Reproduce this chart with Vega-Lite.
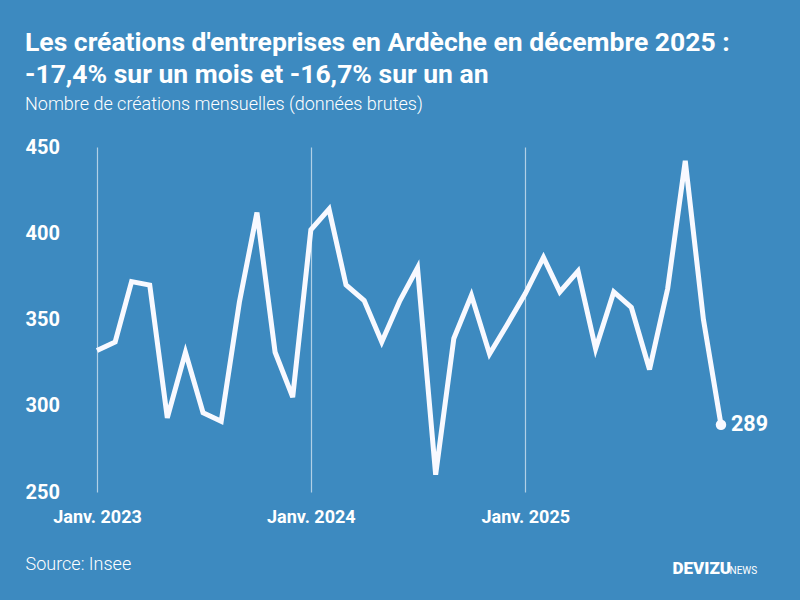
{
  "$schema": "https://vega.github.io/schema/vega-lite/v6.json",
  "width": 624,
  "height": 345,
  "autosize": {"type": "none"},
  "padding": {"left": 97, "top": 147, "right": 79, "bottom": 108},
  "background": "#3d8ac0",
  "config": {"view": {"stroke": null}, "font": "Roboto"},
  "title": {
    "text": ["Les créations d'entreprises en Ardèche en décembre 2025 :", "-17,4% sur un mois et -16,7% sur un an"],
    "subtitle": "Nombre de créations mensuelles (données brutes)",
    "anchor": "start",
    "frame": "group",
    "dx": -72,
    "offset": 23,
    "color": "#ffffff",
    "fontSize": 26.5,
    "fontWeight": "bold",
    "lineHeight": 32,
    "subtitleColor": "#ffffff",
    "subtitleFontSize": 18,
    "subtitleFontWeight": 300,
    "subtitlePadding": 8
  },
  "data": {
    "values": [
      {"date": "2023-01-01", "value": 332},
      {"date": "2023-02-01", "value": 337},
      {"date": "2023-03-01", "value": 372},
      {"date": "2023-04-01", "value": 370},
      {"date": "2023-05-01", "value": 293},
      {"date": "2023-06-01", "value": 331},
      {"date": "2023-07-01", "value": 296},
      {"date": "2023-08-01", "value": 291},
      {"date": "2023-09-01", "value": 360},
      {"date": "2023-10-01", "value": 412},
      {"date": "2023-11-01", "value": 331},
      {"date": "2023-12-01", "value": 305},
      {"date": "2024-01-01", "value": 402},
      {"date": "2024-02-01", "value": 414},
      {"date": "2024-03-01", "value": 370},
      {"date": "2024-04-01", "value": 361},
      {"date": "2024-05-01", "value": 337},
      {"date": "2024-06-01", "value": 361},
      {"date": "2024-07-01", "value": 380},
      {"date": "2024-08-01", "value": 260},
      {"date": "2024-09-01", "value": 339},
      {"date": "2024-10-01", "value": 364},
      {"date": "2024-11-01", "value": 330},
      {"date": "2024-12-01", "value": 347},
      {"date": "2025-01-01", "value": 365},
      {"date": "2025-02-01", "value": 386},
      {"date": "2025-03-01", "value": 366},
      {"date": "2025-04-01", "value": 378},
      {"date": "2025-05-01", "value": 333},
      {"date": "2025-06-01", "value": 366},
      {"date": "2025-07-01", "value": 357},
      {"date": "2025-08-01", "value": 321},
      {"date": "2025-09-01", "value": 368},
      {"date": "2025-10-01", "value": 442},
      {"date": "2025-11-01", "value": 350},
      {"date": "2025-12-01", "value": 289}
    ]
  },
  "layer": [
    {
      "mark": {"type": "line", "color": "#f8f9ff", "strokeWidth": 5, "strokeJoin": "miter"},
      "encoding": {
        "x": {
          "field": "date",
          "type": "temporal",
          "scale": {"type": "utc"},
          "axis": {
            "values": [1672531200000, 1704067200000, 1735689600000],
            "labelExpr": "'Janv. ' + utcFormat(datum.value, '%Y')",
            "grid": true,
            "gridColor": "#ffffff",
            "gridOpacity": 0.6,
            "gridWidth": 1.2,
            "domain": false,
            "ticks": false,
            "labelFlush": false,
            "labelOverlap": false,
            "labelColor": "#ffffff",
            "labelFontSize": 18,
            "labelFontWeight": "bold",
            "labelPadding": 16,
            "title": "Source: Insee",
            "titleX": -72,
            "titleY": 77,
            "titleAlign": "left",
            "titleAnchor": null,
            "titleBaseline": "alphabetic",
            "titleColor": "#ffffff",
            "titleFontSize": 18,
            "titleFontWeight": 300
          }
        },
        "y": {
          "field": "value",
          "type": "quantitative",
          "scale": {"domain": [250, 450], "nice": false, "zero": false},
          "axis": {
            "values": [250, 300, 350, 400, 450],
            "grid": false,
            "domain": false,
            "ticks": false,
            "labelAlign": "left",
            "labelPadding": 72,
            "labelColor": "#ffffff",
            "labelFontSize": 20,
            "labelFontWeight": "bold",
            "title": "DEVIZU",
            "titleAngle": 0,
            "titleX": 575,
            "titleY": 426,
            "titleAlign": "left",
            "titleBaseline": "alphabetic",
            "titleColor": "#ffffff",
            "titleFontSize": 17,
            "titleFontWeight": 900
          }
        }
      }
    },
    {
      "transform": [{"filter": "utcyear(datum.date) == 2025 && utcmonth(datum.date) == 11"}],
      "encoding": {
        "x": {"field": "date", "type": "temporal", "scale": {"type": "utc"}},
        "y": {
          "field": "value",
          "type": "quantitative",
          "scale": {"domain": [250, 450], "nice": false, "zero": false},
          "axis": {
            "orient": "right",
            "labels": false,
            "ticks": false,
            "domain": false,
            "grid": false,
            "title": "NEWS",
            "titleAngle": 0,
            "titleX": 8,
            "titleY": 426,
            "titleAlign": "left",
            "titleBaseline": "alphabetic",
            "titleColor": "#ffffff",
            "titleFontSize": 10,
            "titleFontWeight": 400
          }
        }
      },
      "layer": [
        {"mark": {"type": "circle", "color": "#f8f9ff", "size": 110, "opacity": 1}},
        {
          "mark": {"type": "text", "align": "left", "baseline": "middle", "dx": 10, "fontSize": 21.5, "fontWeight": "bold", "color": "#ffffff"},
          "encoding": {"text": {"field": "value", "type": "quantitative"}}
        }
      ]
    }
  ],
  "resolve": {"scale": {"y": "independent"}, "axis": {"y": "independent"}}
}
